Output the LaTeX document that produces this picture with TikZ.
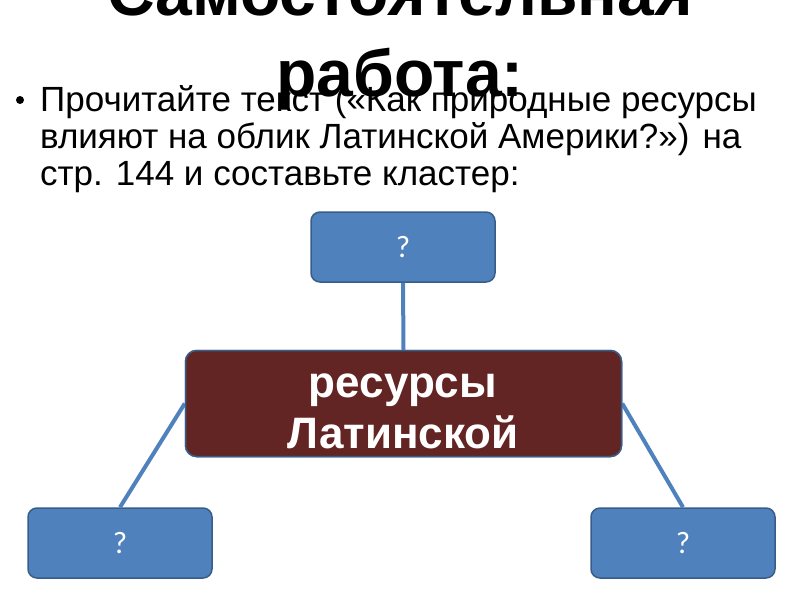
\documentclass[tikz,border=0pt]{standalone}
\usepackage{fontspec}
\setmainfont{Liberation Sans}
\newfontfamily\qfont{Carlito}
\definecolor{boxblue}{HTML}{4F81BD}
\definecolor{boxedge}{HTML}{385D8A}
\definecolor{boxred}{HTML}{632523}
\begin{document}
\begin{tikzpicture}[x=1pt,y=-1pt,
  qbox/.style={draw=boxedge,line width=1.5pt,fill=boxblue,rounded corners=9pt,
    minimum width=184pt,minimum height=70pt,inner sep=0pt},
  qtext/.style={text=white,font=\qfont\fontsize{31}{34}\selectfont,inner sep=0pt},
  mainbox/.style={draw=boxedge,line width=1.5pt,fill=boxred,rounded corners=11pt,
    minimum width=436pt,minimum height=106pt,inner sep=0pt},
  maintext/.style={anchor=base,text=white,inner sep=0pt,font=\bfseries\fontsize{44}{50}\selectfont},
  link/.style={draw=boxblue,line width=4pt},
  titletext/.style={anchor=base,inner sep=0pt,font=\bfseries\fontsize{66}{68}\selectfont},
  bodytext/.style={anchor=base west,inner sep=0pt,font=\fontsize{35}{37}\selectfont}
]
\useasboundingbox (0,0) rectangle (800,600);
% title
\node[titletext] (title1) at (400,15) {Самостоятельная};
\node[titletext] (title2) at (400,96) {работа:};
% bullet text
\node[circle,fill=black,inner sep=0pt,minimum size=8pt] (bullet) at (20,100) {};
\node[bodytext] (l1) at (40,111) {Прочитайте текст («Как природные ресурсы};
\node[bodytext] (l2) at (40,148) {влияют на облик Латинской Америки?») на};
\node[bodytext] (l3) at (40,185) {стр. 144 и составьте кластер:};
% boxes
\node[qbox] (top) at (403,247) {};
\node[mainbox] (center) at (403.5,403.5) {};
\node[qbox] (left) at (120,543) {};
\node[qbox] (right) at (683,543) {};
% connectors
\draw[link] (top.south) -- (center.north);
\draw[link] (left.north) -- (center.west);
\draw[link] (right.north) -- (center.east);
\node[mainbox] at (center) {};
% texts
\node[qtext] (qtop) at (top) {?};
\node[qtext] (qleft) at (left) {?};
\node[qtext] (qright) at (right) {?};
\node[maintext] (m1) at (403,397) {ресурсы};
\node[maintext] (m2) at (403,448) {Латинской};
\end{tikzpicture}
\end{document}
